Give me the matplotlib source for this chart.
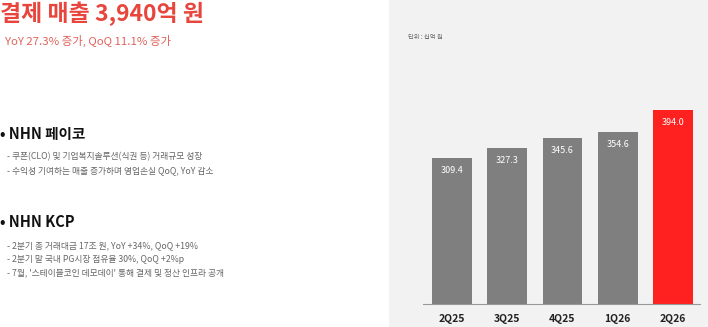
import matplotlib
matplotlib.use("Agg")
import matplotlib.pyplot as plt
from matplotlib.patches import Rectangle

plt.rcParams['font.family'] = ['Noto Sans CJK KR', 'DejaVu Sans']

categories = ["2Q25", "3Q25", "4Q25", "1Q26", "2Q26"]
values = [309.4, 327.3, 345.6, 354.6, 394.0]
bar_colors = ["#7f7f7f", "#7f7f7f", "#7f7f7f", "#7f7f7f", "#ff2020"]

title = "결제 매출 3,940억 원"
subtitle = "YoY 27.3% 증가, QoQ 11.1% 증가"
payco_head = "• NHN 페이코"
payco_items = ["- 쿠폰(CLO) 및 기업복지솔루션(식권 등) 거래규모 성장",
               "- 수익성 기여하는 매출 증가하며 영업손실 QoQ, YoY 감소"]
kcp_head = "• NHN KCP"
kcp_items = ["- 2분기 총 거래대금 17조 원, YoY +34%, QoQ +19%",
             "- 2분기 말 국내 PG시장 점유율 30%, QoQ +2%p",
             "- 7월, '스테이블코인 데모데이' 통해 결제 및 정산 인프라 공개"]
unit_label = "단위 : 십억 원"

W, H = 708, 327
fig = plt.figure(figsize=(W / 100, H / 100), dpi=100)
fig.patch.set_facecolor("white")

def fx(x):
    return x / W

def fy(y):
    return 1 - y / H

# grey panel
fig.patches.append(Rectangle((fx(389), 0), 1 - fx(389), 1, transform=fig.transFigure,
                             facecolor="#f2f2f2", edgecolor="none", zorder=-5))

# left texts
fig.text(fx(0), fy(14), title, color="#e8453c", fontsize=16.5, fontweight="bold", va="center", ha="left")
fig.text(fx(5), fy(41), subtitle, color="#e0625a", fontsize=8.2, va="center", ha="left")
fig.text(fx(0), fy(134), payco_head, color="#111111", fontsize=10.5, fontweight="bold", va="center", ha="left")
for i, t in enumerate(payco_items):
    fig.text(fx(7), fy(157 + 14 * i), t, color="#666666", fontsize=6.3, va="center", ha="left")
fig.text(fx(0), fy(222), kcp_head, color="#111111", fontsize=10.5, fontweight="bold", va="center", ha="left")
for i, t in enumerate(kcp_items):
    fig.text(fx(7), fy(246 + 13.5 * i), t, color="#666666", fontsize=6.3, va="center", ha="left")

fig.text(fx(408), fy(37), unit_label, color="#666666", fontsize=4.5, va="center", ha="left")

# chart axes
ymin, ymax = 52, 420
scale = 0.567  # px per unit
ax_h = (ymax - ymin) * scale
ax = fig.add_axes([fx(423), 23 / H, (700 - 423) / W, ax_h / H])
ax.set_facecolor("none")
x = list(range(len(categories)))
bars = ax.bar(x, values, width=0.72, color=bar_colors, zorder=2)
ax.set_xlim(-0.525, 4.49)
ax.set_ylim(ymin, ymax)
for xi, v in zip(x, values):
    ax.annotate(f"{v:.1f}", (xi, v), xytext=(0, -12.5 * 0.72), textcoords="offset points",
                ha="center", va="center", color="white", fontsize=6.5)
ax.set_xticks(x)
ax.set_xticklabels(categories, fontsize=7.5, fontweight="bold", color="#222222")
ax.tick_params(axis="x", length=0, pad=7)
ax.set_yticks([])
for s in ["top", "right", "left"]:
    ax.spines[s].set_visible(False)
ax.spines["bottom"].set_color("#999999")
ax.spines["bottom"].set_linewidth(0.8)

fig.savefig("out.png", dpi=100)
